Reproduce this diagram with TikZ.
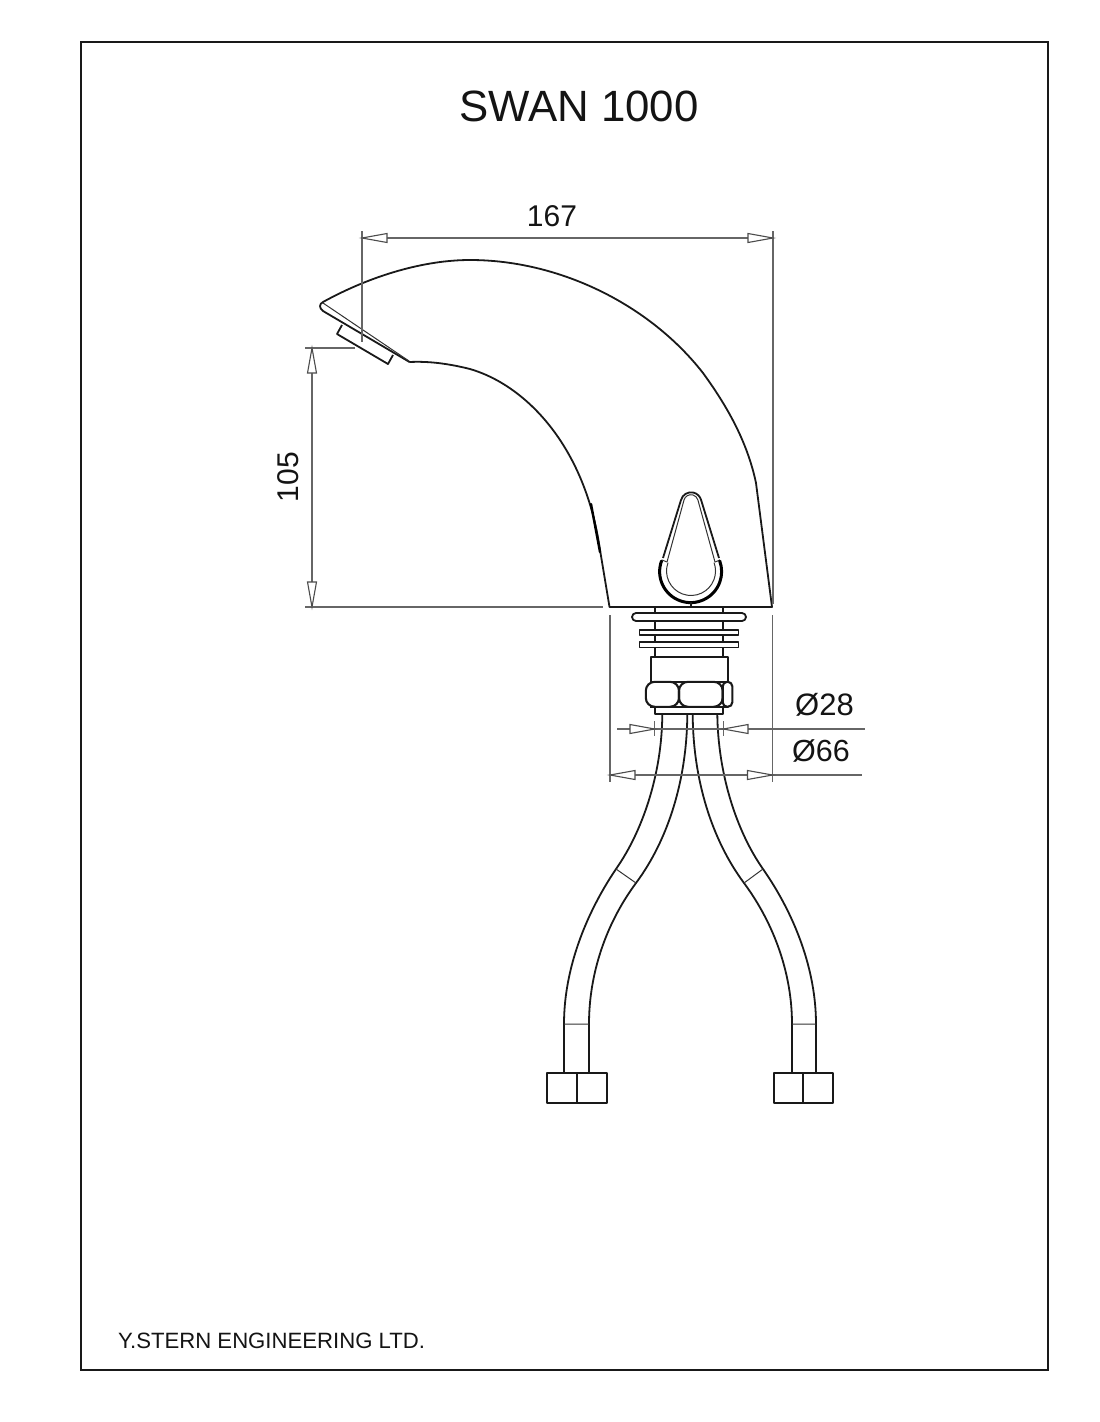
\documentclass[tikz,border=0pt]{standalone}
\usepackage{fontspec}
\setmainfont{Liberation Sans}
\tikzset{
  part/.style={draw=black!90,line width=1.8pt,line join=round},
  thick part/.style={draw=black,line width=3pt,line cap=round},
  fine/.style={draw=black!80,line width=1pt},
  dimline/.style={draw=black!60,line width=1.3pt},
  dimtip/.style={draw=black!70,line width=1.1pt,fill=white,line join=miter},
  label/.style={inner sep=0pt,text=black!92}
}
\begin{document}
\begin{tikzpicture}[x=1pt,y=-1pt]
\useasboundingbox (0,0) rectangle (1100,1422);
\fill[white] (0,0) rectangle (1100,1422);
% frame
\draw[draw=black!90,line width=1.7pt] (81,42) rectangle (1048,1370);
% texts
\node[label,font=\fontsize{43.8}{46}\selectfont] (title) at (579,106) {SWAN 1000};
\node[label,font=\fontsize{30}{30}\selectfont] (w167) at (552,216) {167};
\node[label,font=\fontsize{30}{30}\selectfont,rotate=90] (h105) at (288,477) {105};
\node[label,font=\fontsize{31}{30}\selectfont] (d28) at (824.5,705) {Ø28};
\node[label,font=\fontsize{30.5}{30}\selectfont] (d66) at (821,751) {Ø66};
\node[label,anchor=west,font=\fontsize{22.15}{22}\selectfont] (maker) at (118,1341) {Y.STERN ENGINEERING LTD.};
% spout
\draw[part] (409.5,362) -- (323,311) .. controls (319,308) and (319,304) .. (323,302)
  .. controls (372,275) and (425,260) .. (470,260)
  .. controls (560,260) and (650,305) .. (703,373)
  .. controls (730,410) and (748,445) .. (756,483)
  -- (772,607) -- (609.5,607) -- (600,550)
  .. controls (585,445) and (525,385) .. (470,369)
  .. controls (450,364) and (430,361) .. (409.5,362);
\draw[thick part,line width=2.4pt] (591,504) -- (600,552);
\draw[fine] (323,303) -- (409,361);
% emitter
\draw[part] (342,325) -- (337,334) -- (388,364) -- (393,355);
% handle
\draw[part] (663,558) -- (681,500) arc[start angle=195,end angle=345,radius=10.4] -- (719,558);
\draw[fine] (667,562) -- (684,500) arc[start angle=195,end angle=345,radius=7.2] -- (715,562);
\draw[fine] (667,562) -- (662,560) (715,562) -- (720,560);
\draw[thick part] (661.5,561) arc[start angle=200,end angle=-20,radius=31];
\draw[fine] (668,562.6) arc[start angle=200,end angle=-20,radius=24.5];
\draw[part] (691,602) -- (691,607);
% base
\draw[part] (654.7,607) -- (654.7,657) (723.3,607) -- (723.3,657);
\draw[part,fill=white] (636,613) -- (742,613) arc[start angle=-90,end angle=90,radius=4] -- (636,621) arc[start angle=90,end angle=270,radius=4] -- cycle;
\draw[part,fill=white] (639.5,630) rectangle (738.5,635);
\draw[part,fill=white] (639.5,642) rectangle (738.5,647.5);
\draw[part] (650.7,657) rectangle (727.7,682);
\draw[part] (654.7,707) rectangle (723.3,714);
\draw[part,fill=white] (650,682) -- (728,682) (650,707) -- (728,707);
\draw[part,line width=2.1pt,rounded corners=9pt] (645.8,681.8) rectangle (679,706.8);
\draw[part,line width=2.1pt,rounded corners=9pt] (679,681.8) rectangle (722.7,706.8);
\draw[part,line width=2.1pt,rounded corners=4.5pt] (722.7,681.8) rectangle (732.3,706.8);
% hoses
\draw[part] (662.3,714) .. controls (662,775) and (642,832) .. (616,869)
  .. controls (585,915) and (564,970) .. (564,1024) -- (564,1073);
\draw[part] (687.3,714) .. controls (687,780) and (668,840) .. (636,883)
  .. controls (605,925) and (589,975) .. (589,1024) -- (589,1073);
\draw[part] (692.7,714) .. controls (693,780) and (712,840) .. (744,883)
  .. controls (775,925) and (792,975) .. (792,1024) -- (792,1073);
\draw[part] (717.3,714) .. controls (718,775) and (737,832) .. (763,869)
  .. controls (795,915) and (816,970) .. (816,1024) -- (816,1073);
\draw[fine] (616,869) -- (636,883) (763,869) -- (744,883) (564,1024) -- (589,1024) (792,1024) -- (816,1024);
% end nuts
\draw[part] (546.7,1073) rectangle (606.7,1102.7) (576.7,1073) -- (576.7,1102.7);
\draw[part] (774,1073) rectangle (833.3,1102.7) (803.3,1073) -- (803.3,1102.7);
% dimension 167
\draw[dimline] (362,231) -- (362,342);
\draw[dimline] (773,231) -- (773,604);
\draw[dimline] (362,238) -- (773,238);
\draw[dimtip] (362,238) -- (387,233.5) -- (387,242.5) -- cycle;
\draw[dimtip] (773,238) -- (748,233.5) -- (748,242.5) -- cycle;
% dimension 105
\draw[dimline] (305,348) -- (355,348);
\draw[dimline] (305,607) -- (603,607);
\draw[dimline] (312,348) -- (312,607);
\draw[dimtip] (312,348) -- (307.5,373) -- (316.5,373) -- cycle;
\draw[dimtip] (312,607) -- (307.5,582) -- (316.5,582) -- cycle;
% dimension 28 and 66
\draw[dimline] (610,615) -- (610,782);
\draw[dimline] (772.5,615) -- (772.5,782);
\draw[dimline] (617,729) -- (865,729);
\draw[dimline] (654.7,721) -- (654.7,736) (723.3,721) -- (723.3,736);
\draw[dimtip] (654.7,729) -- (630,724.5) -- (630,733.5) -- cycle;
\draw[dimtip] (723.3,729) -- (748,724.5) -- (748,733.5) -- cycle;
\draw[dimline] (610,775) -- (862,775);
\draw[dimtip] (610,775) -- (635,770.5) -- (635,779.5) -- cycle;
\draw[dimtip] (772.5,775) -- (747.5,770.5) -- (747.5,779.5) -- cycle;
\end{tikzpicture}
\end{document}
